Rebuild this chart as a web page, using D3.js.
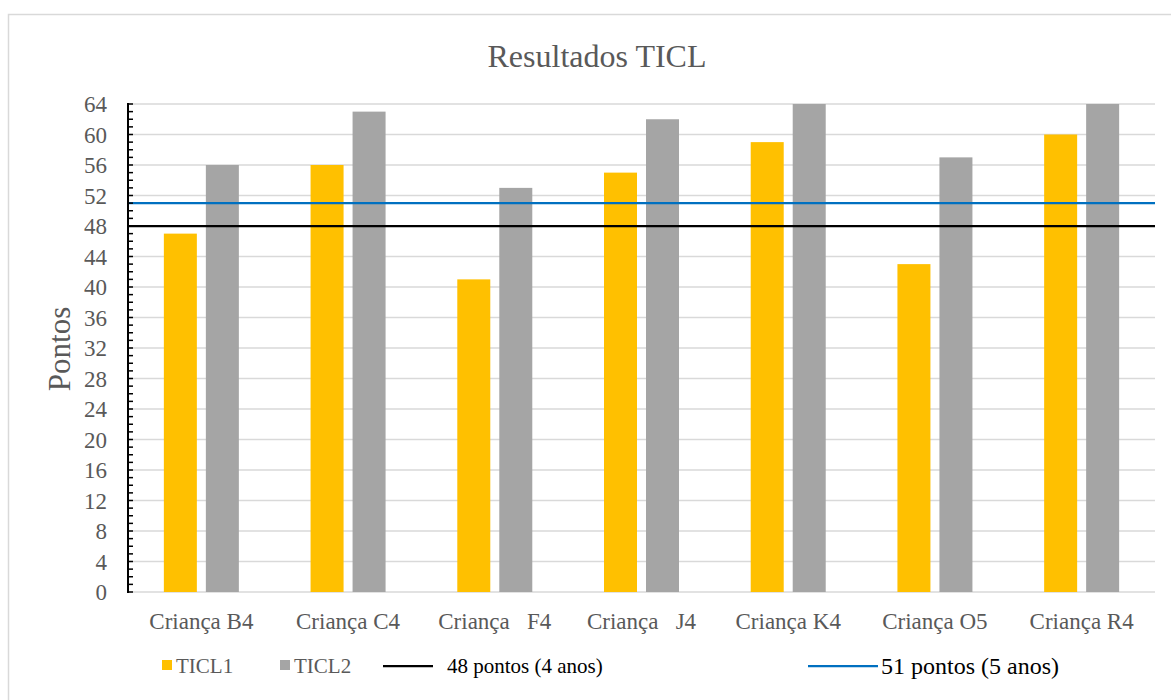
<!DOCTYPE html>
<html>
<head>
<meta charset="utf-8">
<script src="https://d3js.org/d3.v7.min.js"></script>
<style>
  html, body { margin: 0; padding: 0; background: #fff; }
  svg text { font-family: "Liberation Serif", "Times New Roman", serif; white-space: pre; }
</style>
</head>
<body>
<div id="chart"></div>
<script>
// Resultados TICL — grouped bars with two reference lines
const categories = ['Criança B4', 'Criança C4', 'Criança   F4', 'Criança   J4', 'Criança K4', 'Criança O5', 'Criança R4'];
const ticl1 = [47, 56, 41, 55, 59, 43, 60];
const ticl2 = [56, 63, 53, 62, 64, 57, 64];
const refLines = [
  { label: '48 pontos (4 anos)', value: 48, color: '#000000' },
  { label: '51 pontos (5 anos)', value: 51, color: '#0070C0' }
];
const yTicks = d3.range(0, 65, 4);

const W = 1171, H = 700;
const m = { left: 128, right: 1155, top: 104, bottom: 592 };

const svg = d3.select('#chart').append('svg')
  .attr('width', W).attr('height', H);

// chart frame
svg.append('rect')
  .attr('x', 8.5).attr('y', 14.5)
  .attr('width', W).attr('height', H)
  .attr('fill', 'none').attr('stroke', '#D9D9D9').attr('stroke-width', 1.5);

const x = d3.scaleBand().domain(categories).range([m.left, m.right]);
const y = d3.scaleLinear().domain([0, 64]).range([m.bottom, m.top]);
const barW = 33, gap = 9;

// gridlines
svg.append('g')
  .selectAll('line')
  .data(yTicks)
  .join('line')
  .attr('x1', m.left).attr('x2', m.right)
  .attr('y1', d => y(d)).attr('y2', d => y(d))
  .attr('stroke', '#D9D9D9').attr('stroke-width', 1.5);

// bars
const grp = svg.append('g')
  .selectAll('g')
  .data(categories)
  .join('g');
grp.append('rect')
  .attr('x', d => x(d) + x.bandwidth() / 2 - gap / 2 - barW)
  .attr('y', (d, i) => y(ticl1[i]))
  .attr('width', barW)
  .attr('height', (d, i) => y(0) - y(ticl1[i]))
  .attr('fill', '#FFC000');
grp.append('rect')
  .attr('x', d => x(d) + x.bandwidth() / 2 + gap / 2)
  .attr('y', (d, i) => y(ticl2[i]))
  .attr('width', barW)
  .attr('height', (d, i) => y(0) - y(ticl2[i]))
  .attr('fill', '#A5A5A5');

// reference lines
svg.append('g')
  .selectAll('line')
  .data(refLines)
  .join('line')
  .attr('x1', m.left).attr('x2', m.right)
  .attr('y1', d => y(d.value)).attr('y2', d => y(d.value))
  .attr('stroke', d => d.color).attr('stroke-width', 2.25);

// y axis with minor ticks on the inside
const yAxis = svg.append('g').attr('transform', `translate(${m.left},0)`);
yAxis.append('line')
  .attr('x1', 0).attr('x2', 0)
  .attr('y1', y(64) - 1).attr('y2', y(0) + 1)
  .attr('stroke', '#000').attr('stroke-width', 2);
yAxis.selectAll('line.minor')
  .data(d3.range(0, 65, 1))
  .join('line')
  .attr('class', 'minor')
  .attr('x1', 0).attr('x2', 5)
  .attr('y1', d => y(d)).attr('y2', d => y(d))
  .attr('stroke', '#000').attr('stroke-width', 1.5);
yAxis.selectAll('text')
  .data(yTicks)
  .join('text')
  .attr('x', -21).attr('y', d => y(d))
  .attr('dy', '0.35em')
  .attr('text-anchor', 'end')
  .attr('font-size', 23)
  .attr('fill', '#595959')
  .text(d => d);

// x labels
svg.append('g')
  .selectAll('text')
  .data(categories)
  .join('text')
  .attr('x', d => x(d) + x.bandwidth() / 2)
  .attr('y', 629)
  .attr('text-anchor', 'middle')
  .attr('font-size', 23)
  .attr('fill', '#595959')
  .text(d => d);

// title and axis title
svg.append('text')
  .attr('x', 597).attr('y', 67)
  .attr('text-anchor', 'middle')
  .attr('font-size', 32)
  .attr('fill', '#595959')
  .text('Resultados TICL');

svg.append('text')
  .attr('transform', 'translate(70,349) rotate(-90)')
  .attr('text-anchor', 'middle')
  .attr('font-size', 31)
  .attr('fill', '#595959')
  .text('Pontos');

// legend
const leg = svg.append('g');
const legY = 666;
[['TICL1', '#FFC000', 162], ['TICL2', '#A5A5A5', 280]].forEach(([t, c, lx]) => {
  leg.append('rect').attr('x', lx).attr('y', legY - 6).attr('width', 10).attr('height', 10).attr('fill', c);
  leg.append('text').attr('x', lx + 14).attr('y', legY).attr('dy', '0.35em')
    .attr('font-size', 21).attr('fill', '#595959').text(t);
});
[[refLines[0], 383, 433, 447, 21], [refLines[1], 808, 878, 881, 24]].forEach(([r, x1, x2, tx, fs]) => {
  leg.append('line').attr('x1', x1).attr('x2', x2).attr('y1', legY).attr('y2', legY)
    .attr('stroke', r.color).attr('stroke-width', 2.25);
  leg.append('text').attr('x', tx).attr('y', legY).attr('dy', '0.35em')
    .attr('font-size', fs).attr('fill', '#000').text(r.label);
});
</script>
</body>
</html>
